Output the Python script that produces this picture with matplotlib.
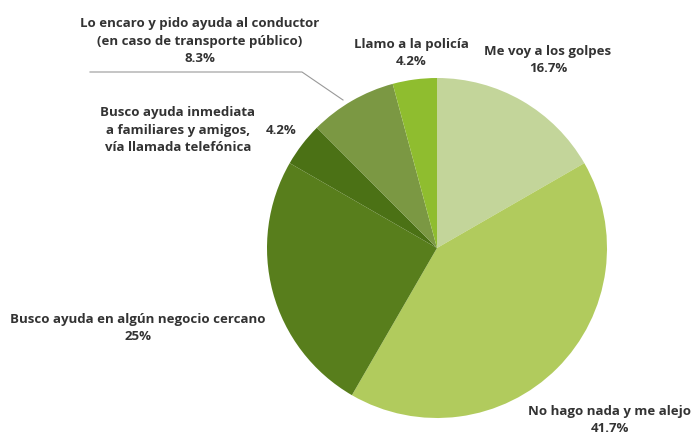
import matplotlib.pyplot as plt

plt.rcParams["font.family"] = ["Open Sans", "DejaVu Sans"]

# Responses, clockwise from 12 o'clock
labels = [
    "Me voy a los golpes",
    "No hago nada y me alejo",
    "Busco ayuda en algún negocio cercano",
    "Busco ayuda inmediata\na familiares y amigos,\nvía llamada telefónica",
    "Lo encaro y pido ayuda al conductor\n(en caso de transporte público)",
    "Llamo a la policía",
]
values = [16.7, 41.7, 25.0, 4.2, 8.3, 4.2]
colors = ["#c3d59a", "#b1cb5d", "#587e1c", "#4b7115", "#7b9843", "#8fbd2f"]

W, H = 695, 436
fig = plt.figure(figsize=(W / 100, H / 100), dpi=100)
ax = fig.add_axes([0, 0, 1, 1])

cx, cy, r = 437, H - 248, 170
ax.pie(values, colors=colors, startangle=90, counterclock=False,
       center=(cx, cy), radius=r, frame=True,
       wedgeprops=dict(linewidth=0))

ax.set_xlim(0, W)
ax.set_ylim(0, H)
ax.set_aspect("equal")
ax.axis("off")

txt = dict(fontsize=9.5, fontweight="bold", color="#333333",
           ha="center", va="center", linespacing=1.45)

def pct(v):
    s = f"{v:.1f}".rstrip("0").rstrip(".")
    return s + "%"

# label positions in pixel space (x, y from top)
ax.text(548, H - 60, f"{labels[0]}\n{pct(values[0])}", **txt)
ax.text(610, H - 420, f"{labels[1]}\n{pct(values[1])}", **txt)
ax.text(138, H - 328, f"{labels[2]}\n{pct(values[2])}", **txt)
ax.text(178, H - 130, labels[3], **txt)
ax.text(281, H - 130, pct(values[3]), **txt)
ax.text(200, H - 41, f"{labels[4]}\n{pct(values[4])}", **txt)
ax.text(411, H - 53, f"{labels[5]}\n{pct(values[5])}", **txt)

# leader line for the 8.3% slice
ax.plot([90, 302, 343], [H - 72, H - 72, H - 100], color="#999999", lw=0.8)

fig.savefig("out.png", dpi=100)
